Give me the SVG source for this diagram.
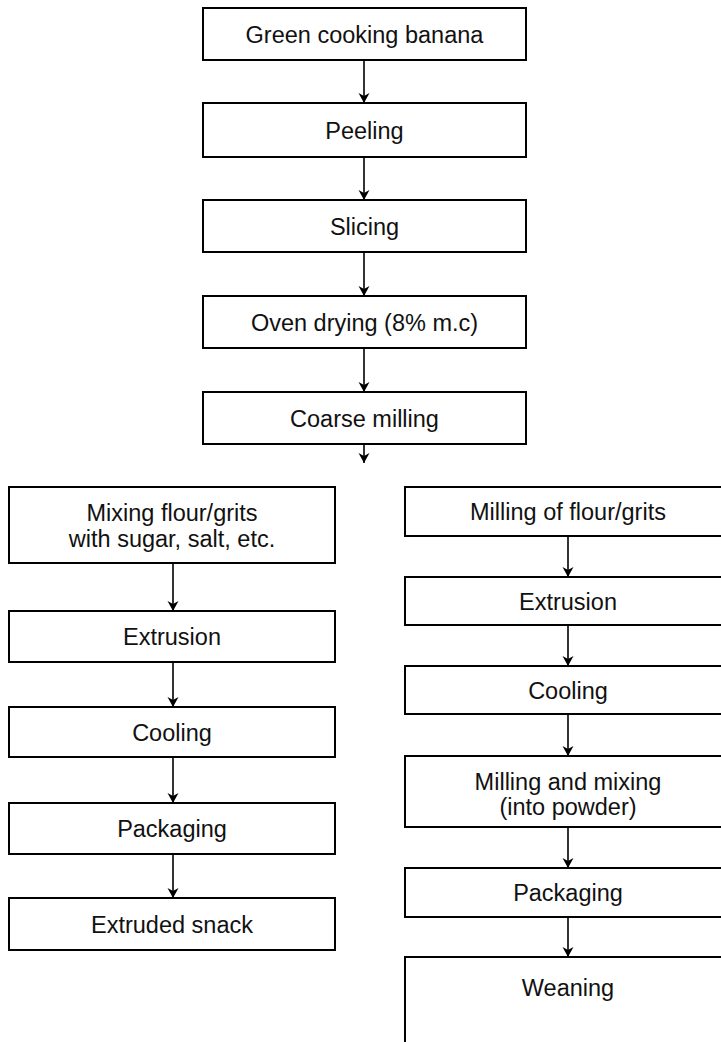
<svg xmlns="http://www.w3.org/2000/svg" width="721" height="1042" viewBox="0 0 721 1042">
<style>
.box{fill:#fff;stroke:#000;stroke-width:2}
.t{font-family:"Liberation Sans",Arial,sans-serif;font-size:23.5px;fill:#111;text-anchor:middle}
.c{stroke:#000;stroke-width:1.6;fill:none;marker-end:url(#ah)}
</style>
<defs>
<marker id="ah" viewBox="0 0 10 16" refX="10" refY="8" markerWidth="10" markerHeight="16" markerUnits="userSpaceOnUse" orient="auto">
<path d="M0,2.5 L10,8 L0,13.5 L3,8 Z" fill="#000"/>
</marker>
</defs>
<rect width="721" height="1042" fill="#fff"/>
<g id="connectors">
<line class="c" x1="364" y1="60" x2="364" y2="103"/>
<line class="c" x1="364" y1="157" x2="364" y2="200"/>
<line class="c" x1="364" y1="252" x2="364" y2="296"/>
<line class="c" x1="364" y1="348" x2="364" y2="392"/>
<line class="c" x1="364" y1="444" x2="364" y2="463"/>
<line class="c" x1="173" y1="563" x2="173" y2="611"/>
<line class="c" x1="173" y1="662" x2="173" y2="707"/>
<line class="c" x1="173" y1="757" x2="173" y2="803"/>
<line class="c" x1="173" y1="854" x2="173" y2="898"/>
<line class="c" x1="568" y1="536" x2="568" y2="577"/>
<line class="c" x1="568" y1="625" x2="568" y2="666"/>
<line class="c" x1="568" y1="714" x2="568" y2="756"/>
<line class="c" x1="568" y1="827" x2="568" y2="868"/>
<line class="c" x1="568" y1="917" x2="568" y2="957"/>
</g>
<g id="n1"><rect class="box" x="203" y="8" width="323" height="52"/><text class="t" x="364.5" y="42.5">Green cooking banana</text></g>
<g id="n2"><rect class="box" x="203" y="103" width="323" height="54"/><text class="t" x="364.5" y="138.5">Peeling</text></g>
<g id="n3"><rect class="box" x="203" y="200" width="323" height="52"/><text class="t" x="364.5" y="234.5">Slicing</text></g>
<g id="n4"><rect class="box" x="203" y="296" width="323" height="52"/><text class="t" x="364.5" y="330.5">Oven drying (8% m.c)</text></g>
<g id="n5"><rect class="box" x="203" y="392" width="323" height="52"/><text class="t" x="364.5" y="426.5">Coarse milling</text></g>
<g id="l1"><rect class="box" x="9" y="487" width="326" height="76"/><text class="t" x="172" y="521">Mixing flour/grits</text><text class="t" x="172" y="547">with sugar, salt, etc.</text></g>
<g id="l2"><rect class="box" x="9" y="611" width="326" height="51"/><text class="t" x="172" y="644.5">Extrusion</text></g>
<g id="l3"><rect class="box" x="9" y="707" width="326" height="50"/><text class="t" x="172" y="740.5">Cooling</text></g>
<g id="l4"><rect class="box" x="9" y="803" width="326" height="51"/><text class="t" x="172" y="836.5">Packaging</text></g>
<g id="l5"><rect class="box" x="9" y="898" width="326" height="52"/><text class="t" x="172" y="932.5">Extruded snack</text></g>
<g id="r1"><rect class="box" x="405" y="487" width="330" height="49"/><text class="t" x="568" y="519.5">Milling of flour/grits</text></g>
<g id="r2"><rect class="box" x="405" y="577" width="330" height="48"/><text class="t" x="568" y="609.5">Extrusion</text></g>
<g id="r3"><rect class="box" x="405" y="666" width="330" height="48"/><text class="t" x="568" y="698.5">Cooling</text></g>
<g id="r4"><rect class="box" x="405" y="756" width="330" height="71"/><text class="t" x="568" y="789.5">Milling and mixing</text><text class="t" x="568" y="814.5">(into powder)</text></g>
<g id="r5"><rect class="box" x="405" y="868" width="330" height="49"/><text class="t" x="568" y="900.5">Packaging</text></g>
<g id="r6"><rect class="box" x="405" y="957" width="330" height="100"/><text class="t" x="568" y="995.5">Weaning</text></g>
</svg>
